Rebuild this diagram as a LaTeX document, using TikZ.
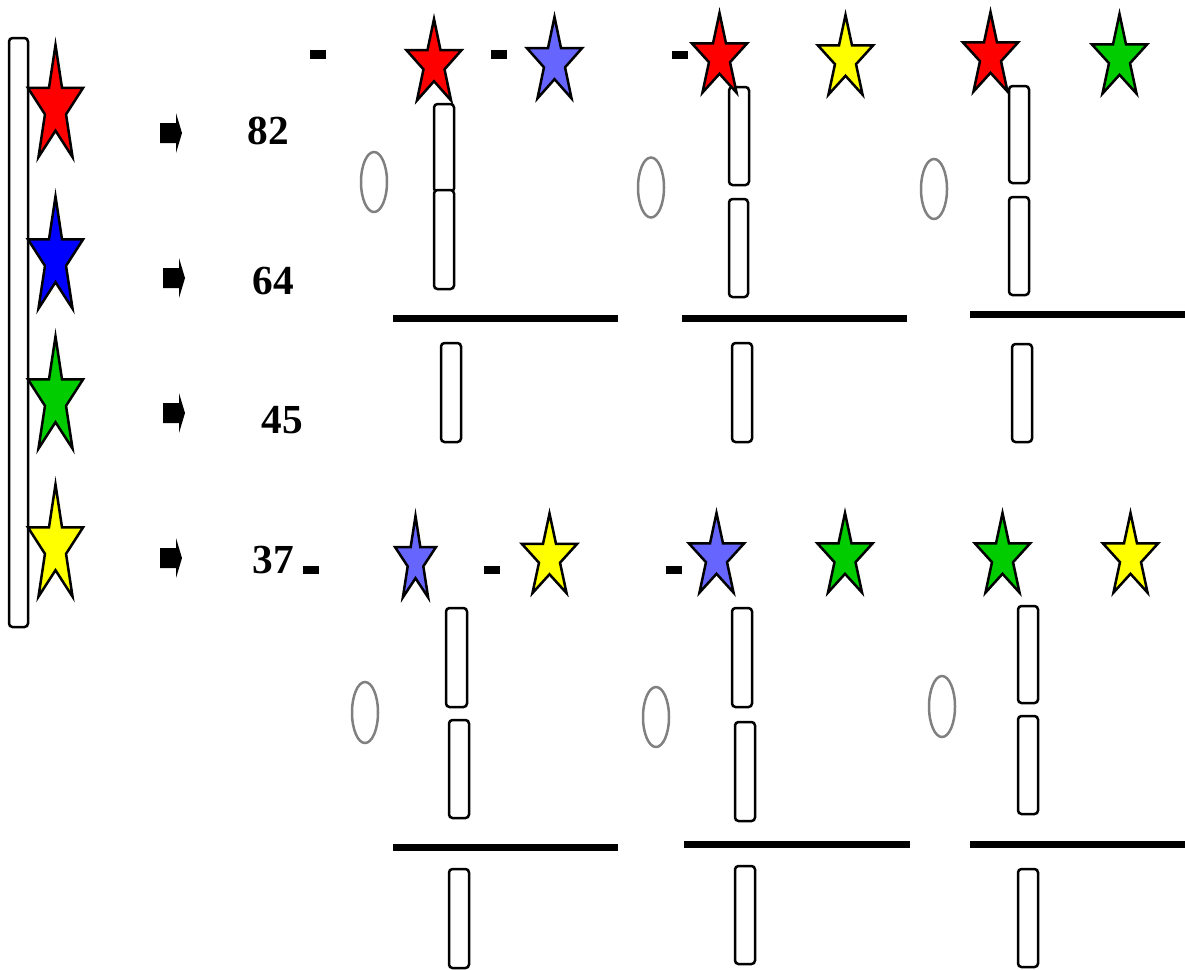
\documentclass[tikz,border=0pt]{standalone}
\usepackage{fontspec}
\setmainfont{Liberation Serif}
\usepackage{tikz}
\definecolor{rojo}{HTML}{FF0000}
\definecolor{azul}{HTML}{0000FF}
\definecolor{lila}{HTML}{6666FF}
\definecolor{verde}{HTML}{00CC00}
\definecolor{amarillo}{HTML}{FFFF00}
\definecolor{grisovalo}{HTML}{808080}
\tikzset{
  contorno/.style = {draw=black, line width=0.5mm},
  tubo/.style     = {draw=black, line width=0.5mm, fill=white, rounded corners=0.7mm},
  ovalo/.style    = {draw=grisovalo, line width=0.5mm},
  barra/.style    = {draw=black, line width=1.4mm},
  guion/.style    = {fill=black},
  numero/.style   = {font=\fontsize{23.5}{28}\selectfont\bfseries, inner sep=0pt},
  pics/estrella/.style = {code={
    \draw[contorno, fill=#1] (270:1)
      \foreach \k in {0,...,4}{ -- ({306+72*\k}:0.382) -- ({342+72*\k}:1)} -- cycle;}},
  pics/flechabloque/.style = {code={
    \fill (0,-10) -- (16,-10) -- (16,-20) -- (22,0) -- (16,20) -- (16,10) -- (0,10) -- cycle;}},
}

\begin{document}
\begin{tikzpicture}[x=0.2mm, y=-0.2mm]
  \useasboundingbox (0,0) rectangle (1185,969);

  % Columna izquierda
  \draw[tubo] (9,38) rectangle (28,627);
  \pic[xscale=29, yscale=62] (e1) at (55.5,107) {estrella=rojo};
  \pic[xscale=29, yscale=62] (e2) at (55.5,258.5) {estrella=azul};
  \pic[xscale=29, yscale=62] (e3) at (55.5,398.5) {estrella=verde};
  \pic[xscale=29, yscale=62] (e4) at (55.5,546.5) {estrella=amarillo};
  \pic (f1) at (160,133) {flechabloque};
  \pic (f2) at (163,278) {flechabloque};
  \pic (f3) at (163,413) {flechabloque};
  \pic (f4) at (160,558) {flechabloque};
  \node[numero] (n82) at (268,131) {82};
  \node[numero] (n64) at (273,281) {64};
  \node[numero] (n45) at (282,420) {45};
  \node[numero] (n37) at (273,560) {37};

  % Panel 1 (arriba)
  \fill[guion] (310,50) rectangle (326,59);
  \fill[guion] (491,50) rectangle (507,59);
  \draw[ovalo] (374,182) ellipse [x radius=13, y radius=30];
  \draw[tubo] (434,104) rectangle (454,192);
  \draw[tubo] (434,190) rectangle (454,289);
  \draw[barra] (393,318) -- (618,318);
  \draw[tubo] (441,343) rectangle (461,442);
  \pic[xscale=29, yscale=45] at (434,64) {estrella=rojo};
  \pic[xscale=29, yscale=45] at (554.5,62) {estrella=lila};

  % Panel 2 (arriba)
  \fill[guion] (672,51) rectangle (688,59);
  \draw[ovalo] (651,187.5) ellipse [x radius=13, y radius=30];
  \draw[tubo] (729,87) rectangle (749,185);
  \draw[tubo] (729,199) rectangle (748,297);
  \draw[barra] (682,318) -- (907,318);
  \draw[tubo] (732,343) rectangle (752,442);
  \pic[xscale=29, yscale=44] at (719.5,57) {estrella=rojo};
  \pic[xscale=29, yscale=44] at (845.5,59) {estrella=amarillo};

  % Panel 3 (arriba)
  \draw[ovalo] (934,189) ellipse [x radius=13, y radius=30];
  \draw[tubo] (1009,86) rectangle (1029,183);
  \draw[tubo] (1009,197) rectangle (1029,295);
  \draw[barra] (970,314.5) -- (1185,314.5);
  \draw[tubo] (1012,344) rectangle (1032,442);
  \pic[xscale=29, yscale=44] at (990.5,56) {estrella=rojo};
  \pic[xscale=29, yscale=44] at (1119.5,58) {estrella=verde};

  % Panel 1 (abajo)
  \fill[guion] (303,566) rectangle (319,574);
  \fill[guion] (484,566) rectangle (500,574);
  \draw[ovalo] (365,712.5) ellipse [x radius=13, y radius=30.5];
  \draw[tubo] (446,608) rectangle (467,707);
  \draw[tubo] (449,720) rectangle (469,818);
  \draw[barra] (393,847) -- (618,847);
  \draw[tubo] (449,869) rectangle (469,968);
  \pic[xscale=21.5, yscale=45] at (415.5,561) {estrella=lila};
  \pic[xscale=29, yscale=44] at (549.5,557.5) {estrella=amarillo};

  % Panel 2 (abajo)
  \fill[guion] (666,566) rectangle (682,574);
  \draw[ovalo] (656,717) ellipse [x radius=13, y radius=30];
  \draw[tubo] (732,608) rectangle (752,707);
  \draw[tubo] (735,722) rectangle (755,821);
  \draw[barra] (684,844.5) -- (910,844.5);
  \draw[tubo] (735,866) rectangle (755,964);
  \pic[xscale=29, yscale=44] at (716.5,557) {estrella=lila};
  \pic[xscale=29, yscale=44] at (845,557) {estrella=verde};

  % Panel 3 (abajo)
  \draw[ovalo] (942,706.5) ellipse [x radius=13, y radius=30.5];
  \draw[tubo] (1018,606) rectangle (1038,703);
  \draw[tubo] (1018,716) rectangle (1038,814);
  \draw[barra] (970,844.5) -- (1185,844.5);
  \draw[tubo] (1018,869) rectangle (1038,967);
  \pic[xscale=29, yscale=44] at (1002.5,557) {estrella=verde};
  \pic[xscale=29, yscale=44] at (1130.5,557) {estrella=amarillo};
\end{tikzpicture}
\end{document}
